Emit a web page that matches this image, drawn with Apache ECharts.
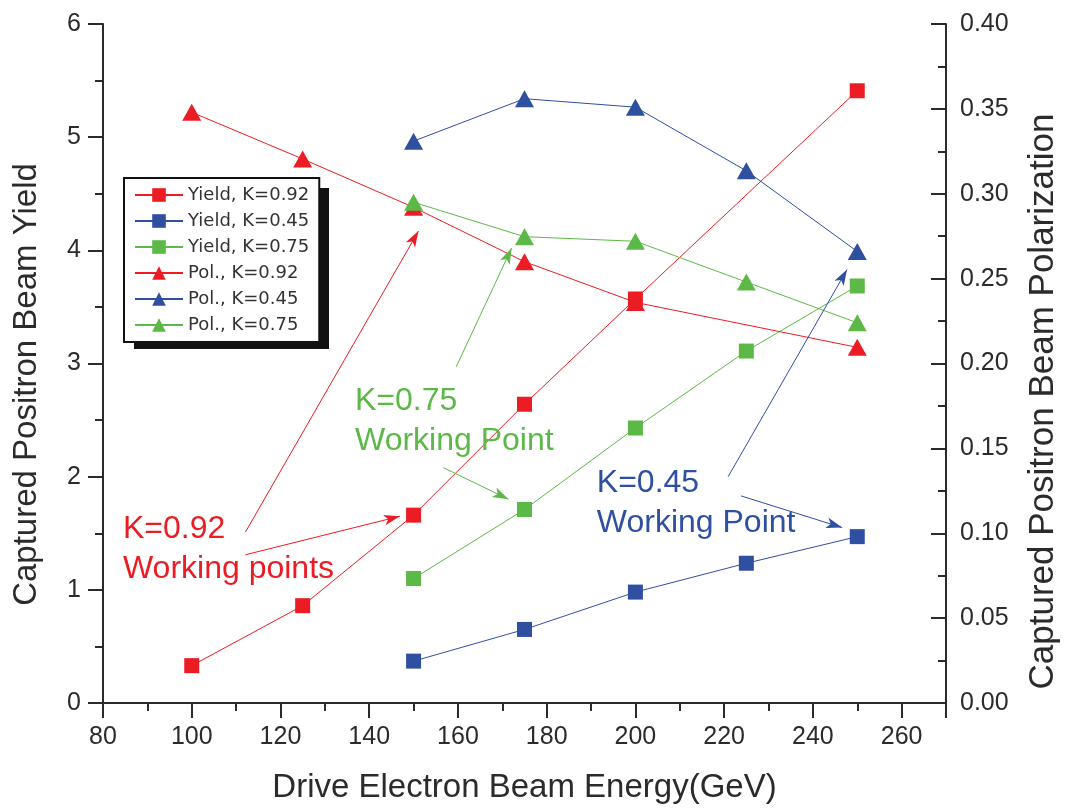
<!DOCTYPE html>
<html>
<head>
<meta charset="utf-8">
<script src="https://cdn.jsdelivr.net/npm/echarts@6/dist/echarts.min.js"></script>
<style>
html,body{margin:0;padding:0;background:#fff;}
#chart{width:1069px;height:809px;}
</style>
</head>
<body>
<div id="chart"></div>
<script>
// ---- data ----
const energyK092 = [100, 125, 150, 175, 200, 250];
const energyK045 = [150, 175, 200, 225, 250];
const energyK075 = [150, 175, 200, 225, 250];

const yieldK092 = [0.33, 0.86, 1.66, 2.64, 3.57, 5.41];
const yieldK045 = [0.37, 0.65, 0.98, 1.235, 1.47];
const yieldK075 = [1.10, 1.71, 2.43, 3.11, 3.685];

const polK092 = [0.348, 0.3205, 0.292, 0.260, 0.236, 0.2095];
const polK045 = [0.331, 0.356, 0.351, 0.3135, 0.266];
const polK075 = [0.295, 0.2747, 0.272, 0.248, 0.224];

const seriesNames = ['Yield, K=0.92', 'Yield, K=0.45', 'Yield, K=0.75',
                     'Pol., K=0.92', 'Pol., K=0.45', 'Pol., K=0.75'];

const xAxisTitle = 'Drive Electron Beam Energy(GeV)';
const yLeftTitle = 'Captured Positron Beam Yield';
const yRightTitle = 'Captured Positron Beam Polarization';

// annotation arrows: [fromEnergy, fromYield, toEnergy, toYield] (left-axis units)
const arrowsRed   = [[112.1, 1.51, 151.1, 4.17], [112.1, 1.31, 146.9, 1.65]];
const arrowsGreen = [[159.6, 2.97, 172.1, 4.02], [156.7, 2.08, 171.4, 1.80]];
const arrowsBlue  = [[220.9, 2.00, 247.7, 3.83], [223.8, 1.83, 246.6, 1.55]];

// annotation texts: [energy, yield, text]
const noteRed   = [84.5, 1.36, 'K=0.92\nWorking points'];
const noteGreen = [136.8, 2.49, 'K=0.75\nWorking Point'];
const noteBlue  = [191.3, 1.77, 'K=0.45\nWorking Point'];

// ---- style ----
const RED = '#ec1c24', BLUE = '#2f4fa0', GREEN = '#5cb947';
const AX = '#2b2b2b';
const SANS = '"Liberation Sans", Arial, sans-serif';

const pairs = (xs, ys) => xs.map((x, i) => [x, ys[i]]);

function arrowLine(list, color) {
  return {
    silent: true,
    symbol: ['none', 'arrow'],
    symbolSize: [8, 16],
    label: {show: false},
    lineStyle: {type: 'solid', width: 1, color: color, opacity: 1},
    emphasis: {disabled: true},
    data: list.map(a => [{coord: [a[0], a[1]]}, {coord: [a[2], a[3]]}])
  };
}
function note(n, color) {
  return {
    silent: true,
    symbol: 'rect',
    symbolSize: 0,
    data: [{
      coord: [n[0], n[1]],
      label: {
        show: true, position: 'right', distance: 0,
        formatter: n[2], color: color, fontFamily: SANS, fontSize: 32,
        lineHeight: 40, align: 'left'
      }
    }]
  };
}

function lineSeries(name, data, color, symbol, size, yIdx, extra) {
  return Object.assign({
    name: name, type: 'line', data: data, yAxisIndex: yIdx,
    symbol: symbol, symbolSize: size, showSymbol: true,
    lineStyle: {width: 1, color: color},
    itemStyle: {color: color, borderWidth: 0},
    z: 3
  }, extra || {});
}

const axisCommon = {
  axisLine: {show: true, lineStyle: {color: AX, width: 2}},
  axisTick: {show: true, length: 15, lineStyle: {color: AX, width: 2}},
  minorTick: {show: true, splitNumber: 2, length: 8, lineStyle: {color: AX, width: 2}},
  splitLine: {show: false},
  minorSplitLine: {show: false}
};

const chart = echarts.init(document.getElementById('chart'), null, {renderer: 'canvas'});
chart.setOption({
  animation: false,
  backgroundColor: '#fff',
  grid: {left: 103, right: 113, top: 24, bottom: 105, containLabel: false},
  graphic: [{
    type: 'rect', z: 3, silent: true,
    shape: {x: 134, y: 188, width: 195, height: 161},
    style: {fill: '#111'}
  }],
  legend: {
    orient: 'vertical', left: 124, top: 178, z: 5,
    itemWidth: 48, itemHeight: 17, itemGap: 8,
    padding: [8, 10, 8, 10],
    backgroundColor: '#fff', borderColor: '#111', borderWidth: 2,
    textStyle: {fontFamily: '"DejaVu Sans", sans-serif', fontSize: 18, color: '#333'},
    data: seriesNames
  },
  xAxis: [
    Object.assign({}, axisCommon, {
      type: 'value', position: 'bottom', min: 80, max: 270, interval: 20,
      name: xAxisTitle, nameLocation: 'middle', nameGap: 68,
      nameTextStyle: {fontFamily: SANS, fontSize: 33, color: AX},
      axisLabel: {fontFamily: SANS, fontSize: 25, color: AX, margin: 22, showMaxLabel: false}
    }),
    Object.assign({}, axisCommon, {
      type: 'value', position: 'top', min: 80, max: 270, interval: 20,
      axisTick: Object.assign({}, axisCommon.axisTick, {inside: true}),
      axisLabel: {show: false}
    })
  ],
  yAxis: [
    Object.assign({}, axisCommon, {
      type: 'value', position: 'left', min: 0, max: 6, interval: 1,
      name: yLeftTitle, nameLocation: 'middle', nameGap: 60, nameRotate: 90,
      nameTextStyle: {fontFamily: SANS, fontSize: 33, color: AX, padding: [0, 42, 0, 0]},
      axisLabel: {fontFamily: SANS, fontSize: 25, color: AX, margin: 22}
    }),
    Object.assign({}, axisCommon, {
      type: 'value', position: 'right', min: 0, max: 0.4, interval: 0.05,
      axisTick: Object.assign({}, axisCommon.axisTick, {inside: true}),
      name: yRightTitle, nameLocation: 'middle', nameGap: 80, nameRotate: 90,
      nameTextStyle: {fontFamily: SANS, fontSize: 35, color: AX, padding: [0, 76, 0, 0]},
      axisLabel: {fontFamily: SANS, fontSize: 25, color: AX, margin: 14,
                  formatter: v => v.toFixed(2)}
    })
  ],
  series: [
    lineSeries(seriesNames[0], pairs(energyK092, yieldK092), RED, 'rect', 15, 0,
      {markLine: arrowLine(arrowsRed, RED), markPoint: note(noteRed, RED)}),
    lineSeries(seriesNames[1], pairs(energyK045, yieldK045), BLUE, 'rect', 15, 0,
      {markLine: arrowLine(arrowsBlue, BLUE), markPoint: note(noteBlue, BLUE)}),
    lineSeries(seriesNames[2], pairs(energyK075, yieldK075), GREEN, 'rect', 15, 0,
      {markLine: arrowLine(arrowsGreen, GREEN), markPoint: note(noteGreen, GREEN)}),
    lineSeries(seriesNames[3], pairs(energyK092, polK092), RED, 'triangle', [19, 17], 1),
    lineSeries(seriesNames[4], pairs(energyK045, polK045), BLUE, 'triangle', [19, 17], 1),
    lineSeries(seriesNames[5], pairs(energyK075, polK075), GREEN, 'triangle', [19, 17], 1)
  ]
});
</script>
</body>
</html>
